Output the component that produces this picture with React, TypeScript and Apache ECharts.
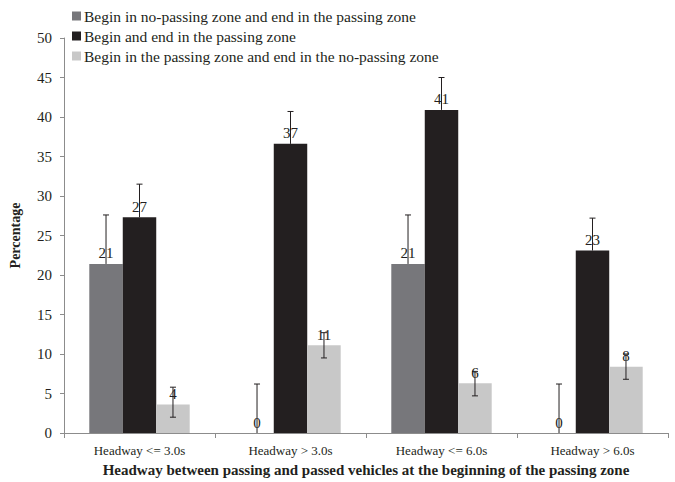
import React, { useEffect, useRef } from "react";
import * as echarts from "echarts";

const categories = ["Headway <= 3.0s", "Headway > 3.0s", "Headway <= 6.0s", "Headway > 6.0s"];
const seriesNames = [
  "Begin in no-passing zone and end in the passing zone",
  "Begin and end in the passing zone",
  "Begin in the passing zone and end in the no-passing zone",
];
const noPassToPass = [21.4, 0, 21.4, 0];
const passToPass = [27.3, 36.6, 40.9, 23.1];
const passToNoPass = [3.6, 11.1, 6.3, 8.4];

// error bar extents (plus / minus) per series
const noPassToPassPlus = [6.2, 6.2, 6.2, 6.2];
const noPassToPassMinus = [0, 0, 0, 0];
const passToPassPlus = [4.2, 4.1, 4.1, 4.1];
const passToPassMinus = [0, 0, 0, 0];
const passToNoPassPlus = [2.2, 1.6, 1.5, 1.6];
const passToNoPassMinus = [1.6, 1.6, 1.6, 1.6];

const yTicks = { min: 0, max: 50, interval: 5 };

const colors = ["#77777b", "#231f20", "#c8c8c8"];
const ink = "#231f20";
const serif = "Liberation Serif";
const catGap = 0.335;

export default function App() {
  const ref = useRef<HTMLDivElement>(null);

  useEffect(() => {
    if (!ref.current) return;
    const chart = echarts.init(ref.current, undefined, { renderer: "svg" });

    const values = [noPassToPass, passToPass, passToNoPass];
    const plus = [noPassToPassPlus, passToPassPlus, passToNoPassPlus];
    const minus = [noPassToPassMinus, passToPassMinus, passToNoPassMinus];

    const errData: number[][] = [];
    values.forEach((vals, s) => {
      vals.forEach((v, c) => {
        errData.push([c, s, v, v - minus[s][c], v + plus[s][c]]);
      });
    });

    const barSeries = values.map((vals, s) => ({
      name: seriesNames[s],
      type: "bar",
      data: vals,
      barGap: "0%",
      barCategoryGap: catGap * 100 + "%",
      itemStyle: { color: colors[s] },
      label: {
        show: true,
        position: "top",
        distance: 3,
        formatter: (p: any) => String(Math.round(p.value)),
        fontFamily: serif,
        fontSize: 15,
        color: ink,
      },
      z: 2,
    }));

    const errorSeries = {
      type: "custom",
      name: "error",
      data: errData,
      z: 5,
      silent: true,
      renderItem: (params: any, api: any) => {
        const c = api.value(0);
        const s = api.value(1);
        const v = api.value(2);
        const lo = api.value(3);
        const hi = api.value(4);
        const band = api.size([1, 0])[0];
        const barW = (band * (1 - catGap)) / 3;
        const base = api.coord([c, v]);
        const x = base[0] + (s - 1) * barW;
        const yHi = api.coord([c, hi])[1];
        const yLo = api.coord([c, lo])[1];
        const cap = 3;
        const style = { stroke: ink, lineWidth: 1 };
        const children: any[] = [
          { type: "line", shape: { x1: x, y1: yLo, x2: x, y2: yHi }, style },
          { type: "line", shape: { x1: x - cap, y1: yHi, x2: x + cap, y2: yHi }, style },
        ];
        if (lo < v) {
          children.push({ type: "line", shape: { x1: x - cap, y1: yLo, x2: x + cap, y2: yLo }, style });
        }
        return { type: "group", children };
      },
    };

    chart.setOption({
      animation: false,
      backgroundColor: "#ffffff",
      textStyle: { fontFamily: serif },
      legend: {
        data: seriesNames,
        orient: "vertical",
        left: 72,
        top: 8,
        padding: 0,
        itemWidth: 9,
        itemHeight: 9,
        itemGap: 4,
        icon: "rect",
        textStyle: { fontFamily: serif, fontSize: 15.5, color: ink, padding: [0, 0, 0, -2] },
      },
      grid: { left: 60, right: 7, top: 38, bottom: 44, containLabel: false },
      xAxis: {
        type: "category",
        data: categories,
        axisLine: { lineStyle: { color: "#8c8c8c", width: 1 } },
        axisTick: { show: true, length: 5, lineStyle: { color: "#8c8c8c" } },
        axisLabel: { fontFamily: serif, fontSize: 13, color: ink, margin: 11 },
        name: "Headway between passing and passed vehicles at the beginning of the passing zone",
        nameLocation: "middle",
        nameGap: 29,
        nameTextStyle: { fontFamily: serif, fontSize: 15, fontWeight: "bold", color: ink },
      },
      yAxis: {
        type: "value",
        min: yTicks.min,
        max: yTicks.max,
        interval: yTicks.interval,
        splitLine: { show: false },
        axisLine: { show: true, lineStyle: { color: "#8c8c8c", width: 1 } },
        axisTick: { show: true, length: 4, lineStyle: { color: "#8c8c8c" } },
        axisLabel: { fontFamily: serif, fontSize: 15, color: ink, margin: 12 },
        name: "Percentage",
        nameLocation: "middle",
        nameGap: 42,
        nameTextStyle: { fontFamily: serif, fontSize: 14, fontWeight: "bold", color: ink },
      },
      series: [...barSeries, errorSeries],
    });

    return () => chart.dispose();
  }, []);

  return (
    <div
      ref={ref}
      style={{ position: "fixed", left: 0, top: 0, width: 675, height: 482 }}
    />
  );
}
